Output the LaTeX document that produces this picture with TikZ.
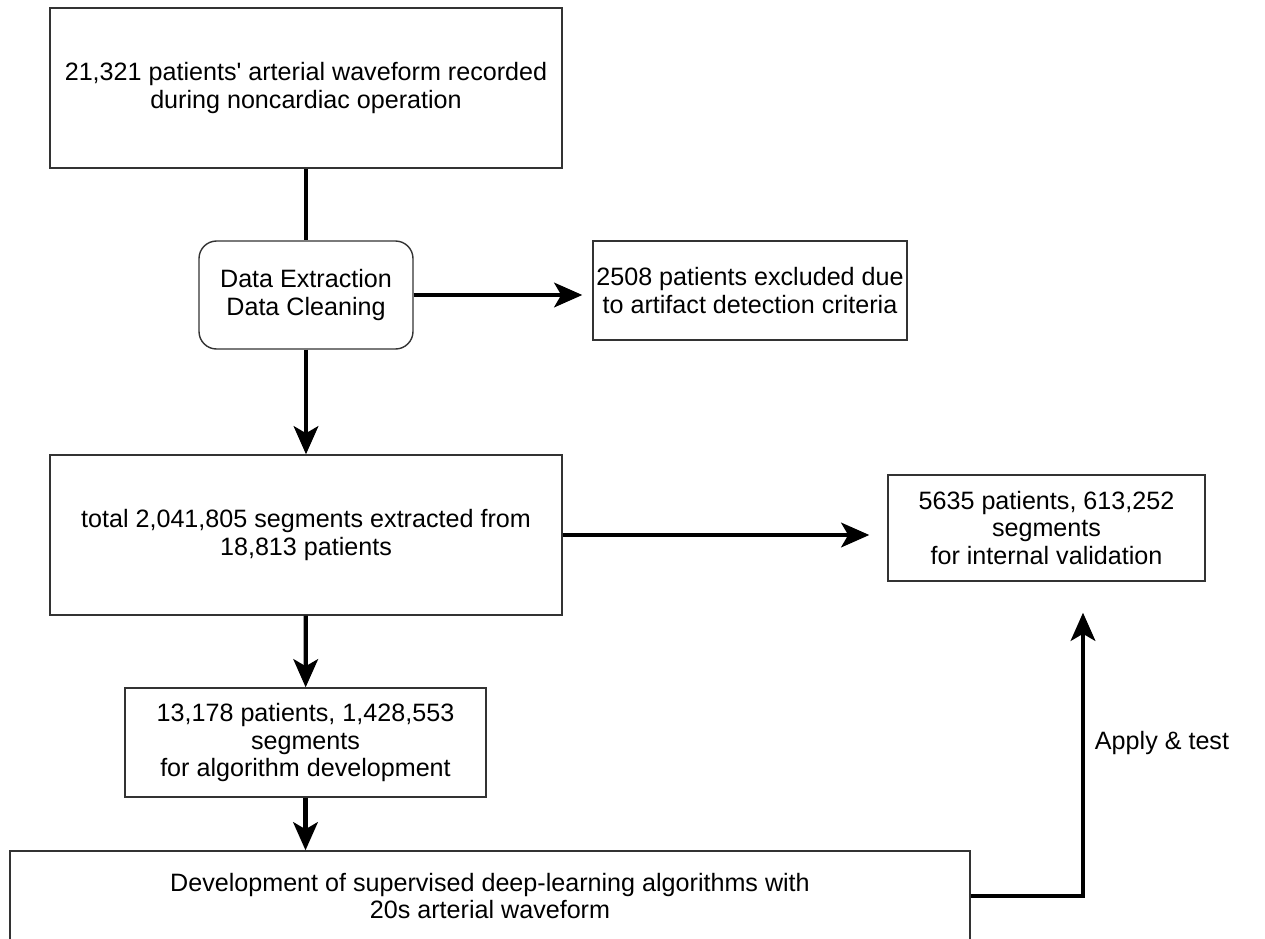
\documentclass[tikz,border=0pt]{standalone}
\usepackage{fontspec}
\setmainfont{Liberation Sans}
\usetikzlibrary{arrows.meta, positioning}

\tikzset{
    box/.style={draw=black!80, line width=0.8pt, align=center, inner sep=0pt,
        font=\fontsize{14.3}{15.9}\selectfont},
    rbox/.style={box, rounded corners=10pt},
    flow/.style={line width=2.4pt, -{Stealth[length=16pt, width=14pt, inset=4pt]}},
    plain/.style={line width=2.4pt}
}

\begin{document}
\begin{tikzpicture}[x=0.02cm, y=-0.02cm]
        \useasboundingbox (0,0) rectangle (1265,938);
        \clip (0,0) rectangle (1265,938);

        \node [box, minimum width=512*0.02cm, minimum height=160*0.02cm] (rec) at (306,88)
            {21,321 patients\textquotesingle\ arterial waveform recorded\\during noncardiac operation};
        \node [rbox, minimum width=214*0.02cm, minimum height=108*0.02cm] (clean) at (306,295)
            {Data Extraction\\Data Cleaning};
        \node [box, minimum width=314*0.02cm, minimum height=99*0.02cm] (excl) at (750,290.5)
            {2508 patients excluded due\\to artifact detection criteria};
        \node [box, minimum width=512*0.02cm, minimum height=160*0.02cm] (total) at (306,535)
            {total 2,041,805 segments extracted from\\18,813 patients};
        \node [box, minimum width=317*0.02cm, minimum height=106*0.02cm] (valid) at (1046.5,528)
            {5635 patients, 613,252\\segments\\for internal validation};
        \node [box, minimum width=361*0.02cm, minimum height=109*0.02cm] (algo) at (305.5,742.5)
            {13,178 patients, 1,428,553\\segments\\for algorithm development};
        \node [box, minimum width=960*0.02cm, minimum height=90*0.02cm] (dev) at (490,896)
            {Development of supervised deep-learning algorithms with\\20s arterial waveform};
        \node [font=\fontsize{14.3}{15.9}\selectfont] (apply) at (1162,743) {Apply \& test};

        \coordinate (exclin) at ([xshift=-10*0.02cm]excl.west |- clean.east);
        \coordinate (validin) at ([xshift=-18*0.02cm]valid.west |- total.east);
        \coordinate (corner) at (1083,0 |- dev.east);
        \coordinate (validup) at ([yshift=-31*0.02cm]corner |- valid.south);

        \draw [plain] (rec) -- (clean);
        \draw [flow] (clean) -- (total);
        \draw [flow] (clean.east) -- (exclin);
        \draw [flow] (total.east) -- (validin);
        \draw [flow] (total) -- (algo);
        \draw [flow] (algo.south) -- (algo.south |- dev.north);
        \draw [flow] (dev.east) -- (corner) -- (validup);
    \end{tikzpicture}
\end{document}
